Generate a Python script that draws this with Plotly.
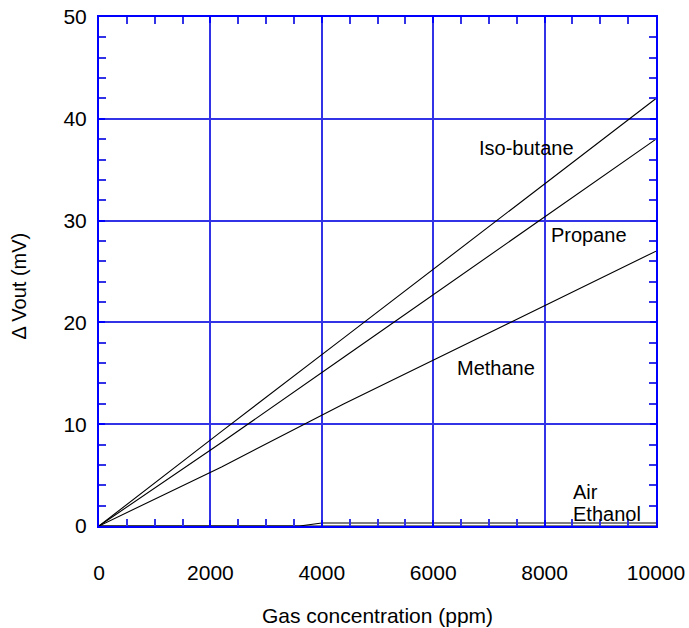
import plotly.graph_objects as go

# Data
conc = [0, 2200, 4400, 10000]
isobutane = [0, 9.3, 18.5, 42]
propane = [0, 8.2, 16.6, 38]
methane = [0, 5.8, 12.0, 27]

air_x = [0, 3600, 4000, 10000]
air_y = [0, 0, 0.3, 0.3]
eth_x = [0, 10000]
eth_y = [0, 0]

labels = ["Iso-butane", "Propane", "Methane", "Air", "Ethanol"]
label_x = [7666, 8797, 7128, 8492, 8492]
label_y = [37.1, 28.6, 15.5, 3.3, 1.15]
label_anchor = ["center", "center", "center", "left", "left"]

x_ticks = [0, 2000, 4000, 6000, 8000, 10000]
x_ticktext = ["0", "2000", "4000", "6000", "8000", "10000"]
y_ticks = [0, 10, 20, 30, 40, 50]

FONT = "Arial, Liberation Sans, sans-serif"
BLUE = "#0000ff"
GRID = "#3232e6"

fig = go.Figure()
line = dict(color="black", width=1.1)
for xs, ys, nm in [(conc, isobutane, "Iso-butane"), (conc, propane, "Propane"),
                   (conc, methane, "Methane"), (air_x, air_y, "Air"),
                   (eth_x, eth_y, "Ethanol")]:
    fig.add_trace(go.Scatter(x=xs, y=ys, mode="lines", line=line, name=nm,
                             showlegend=False, cliponaxis=False))

for t, x, y, a in zip(labels, label_x, label_y, label_anchor):
    fig.add_annotation(x=x, y=y, text=t, showarrow=False, xanchor=a,
                       borderpad=0,
                       font=dict(family=FONT, size=20, color="black"))

# axis titles
fig.add_annotation(x=0.5, y=0, xref="paper", yref="paper", yshift=-89,
                   text="Gas concentration (ppm)", showarrow=False,
                   xanchor="center", yanchor="middle",
                   font=dict(family=FONT, size=21, color="black"))
fig.add_annotation(x=0, y=0.5, xref="paper", yref="paper", xshift=-81, yshift=-15,
                   text="Δ Vout (mV)", showarrow=False, textangle=-90,
                   xanchor="center", yanchor="middle",
                   font=dict(family=FONT, size=20, color="black"))

axis_common = dict(
    showline=True, linecolor=BLUE, linewidth=2, mirror="allticks",
    showgrid=True, gridcolor=GRID, gridwidth=2, zeroline=False,
    ticks="inside", ticklen=6, tickcolor=BLUE, tickwidth=1.5,
    tickfont=dict(family=FONT, size=21, color="black"),
    automargin=False, ticklabeloverflow="allow",
)

fig.update_xaxes(range=[0, 10000], tickvals=x_ticks, ticktext=x_ticktext,
                 minor=dict(dtick=500, ticks="inside", ticklen=7, tickcolor=GRID, tickwidth=1.5, showgrid=False),
                 ticklabelstandoff=27, **axis_common)
fig.update_yaxes(range=[0, 50], tickvals=y_ticks,
                 minor=dict(dtick=2, ticks="inside", ticklen=7, tickcolor=GRID, tickwidth=1.5, showgrid=False),
                 ticklabelstandoff=6, **axis_common)

# plot area on page: x 99-656, y 17-526
fig.update_layout(width=689, height=628, margin=dict(l=99, r=33, t=17, b=102),
                  plot_bgcolor="white", paper_bgcolor="white")

fig.write_html("out.html", config={"displayModeBar": False},
               post_script="document.body.style.margin='0';document.body.style.padding='0';")
